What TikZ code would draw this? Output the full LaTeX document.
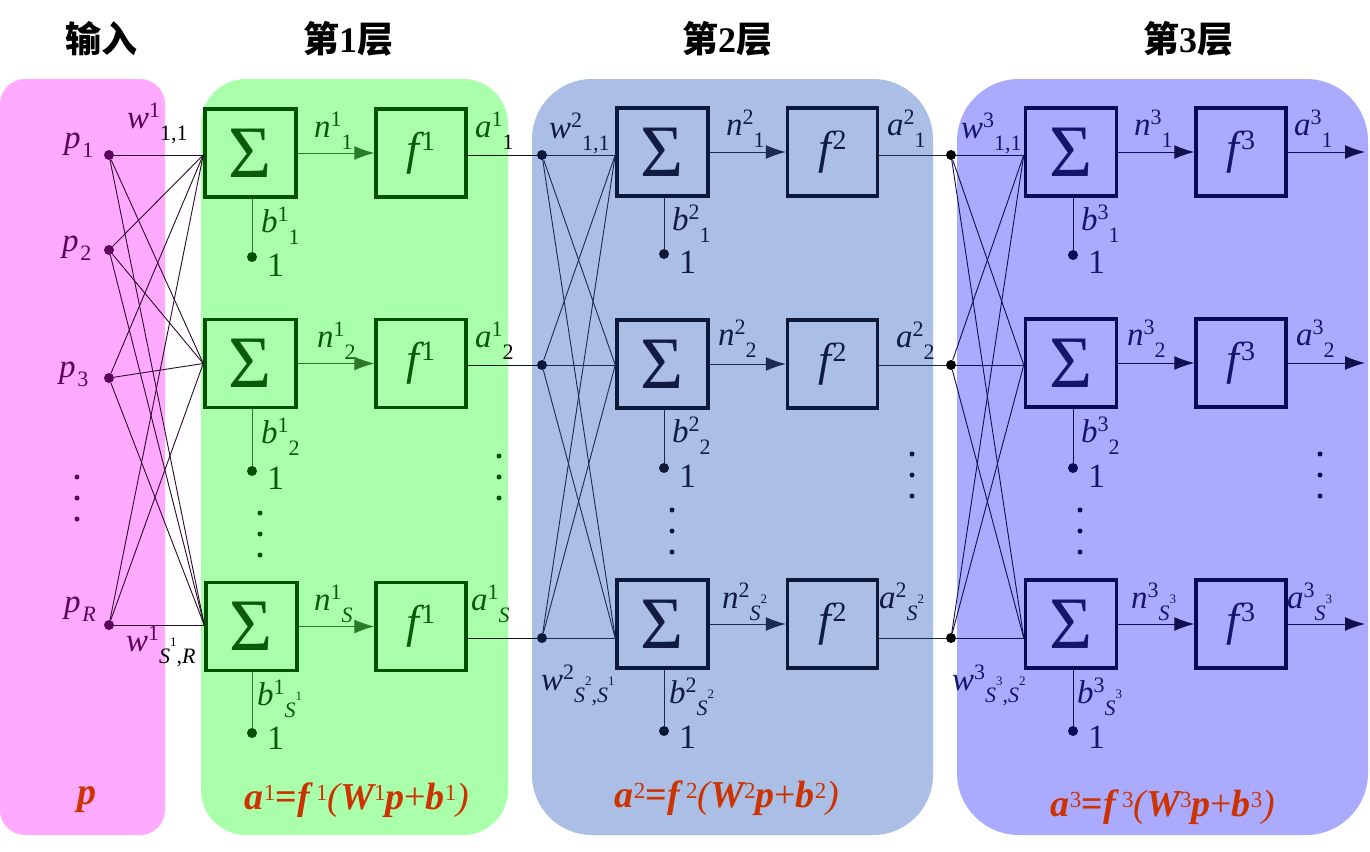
\documentclass[tikz,border=0pt]{standalone}
\usepackage{fontspec}
\setmainfont{Liberation Serif}
\newfontfamily\cjk{Noto Sans CJK SC}
\usetikzlibrary{arrows.meta}
\definecolor{pinkbg}{HTML}{FFAAFF}
\definecolor{greenbg}{HTML}{AAFFAA}
\definecolor{bluebg}{HTML}{AABEE6}
\definecolor{violetbg}{HTML}{AAAAFF}
\definecolor{cin}{HTML}{5C005C}
\definecolor{cinline}{HTML}{2E0A2E}
\definecolor{cone}{HTML}{0A5A0A}
\definecolor{coneb}{HTML}{005000}
\definecolor{conel}{HTML}{2A7A2A}
\definecolor{ctwo}{HTML}{111C40}
\definecolor{ctwob}{HTML}{0B1838}
\definecolor{ctwol}{HTML}{1B2A4E}
\definecolor{cthree}{HTML}{15156A}
\definecolor{cthreeb}{HTML}{0A0A55}
\definecolor{cthreel}{HTML}{10104E}
\definecolor{formula}{HTML}{CC3300}
\newcommand{\fsz}[1]{\fontsize{#1}{#1}\selectfont}
\newcommand{\tlab}[3]{{\fsz{33}\itshape #1}\raisebox{11pt}{\fsz{22}#2}\raisebox{-12pt}{\fsz{22}#3}}
\newcommand{\plab}[1]{{\fsz{33}\itshape p}\,\raisebox{-9pt}{\fsz{22}#1}}
\newcommand{\Sx}[1]{{\itshape S}\raisebox{17pt}{\fsz{13}#1}}
\newcommand{\fl}[1]{{\fsz{46}\itshape f}\,\raisebox{14pt}{\fsz{28}#1}}
\newcommand{\fsup}[1]{\raisebox{9pt}{\fsz{23}\mdseries\upshape #1}}
\newcommand{\frm}[1]{{\fsz{38}\bfseries\itshape a\fsup{#1}{\upshape =}f\,\fsup{#1}{\mdseries(}W\fsup{#1}p{\mdseries\upshape +}b\fsup{#1}{\mdseries)}}}
\newcommand{\ttl}[1]{{\cjk\bfseries\fsz{36}#1}}
\begin{document}
\begin{tikzpicture}[x=1pt,y=-1pt,
  lab/.style={inner sep=0pt, anchor=base west},
  sig/.style={draw, line width=3.5pt, minimum width=91pt, minimum height=88pt, inner sep=0pt, font=\fsz{74}},
  fbx/.style={draw, line width=3.5pt, minimum width=90pt, minimum height=88pt, inner sep=0pt},
  dotn/.style={circle, fill, inner sep=0pt, minimum size=10pt},
  sdot/.style={circle, fill, inner sep=0pt, minimum size=5pt},
  conn/.style={line width=0.9pt},
  arr/.style={line width=1pt, -{Latex[length=20pt,width=14pt]}},
  title/.style={inner sep=0pt},
  frmn/.style={inner sep=0pt, text=formula},
]
\useasboundingbox (0,0) rectangle (1370,851);
\fill[white] (0,0) rectangle (1370,851);
% panels
\fill[pinkbg, rounded corners=25pt] (0,79) rectangle (165,835);
\fill[greenbg, rounded corners=45pt] (201,79) rectangle (508,835);
\fill[bluebg, rounded corners=60pt] (532,79) rectangle (933,835);
\fill[violetbg, rounded corners=62pt] (957,79) rectangle (1368,835);
% titles
\node[title] (t0) at (101,39) {\ttl{输入}};
\node[title] (t1) at (348,39) {\ttl{第{\rmfamily 1}层}};
\node[title] (t2) at (727,39) {\ttl{第{\rmfamily 2}层}};
\node[title] (t3) at (1188,39) {\ttl{第{\rmfamily 3}层}};
% ---------------- layer 1 boxes
\node[sig, draw=coneb, text=cone, fill=greenbg] (s11) at (250.5,153) {Σ};
\node[sig, draw=coneb, text=cone, fill=greenbg] (s12) at (250.5,363.5) {Σ};
\node[sig, draw=coneb, text=cone, fill=greenbg] (s13) at (251.5,626.5) {Σ};
\node[fbx, draw=coneb, text=cone, fill=greenbg] (f11) at (421,153) {\fl{1}};
\node[fbx, draw=coneb, text=cone, fill=greenbg] (f12) at (421,363.5) {\fl{1}};
\node[fbx, draw=coneb, text=cone, fill=greenbg] (f13) at (421,626.5) {\fl{1}};
% ---------------- layer 2 boxes
\node[sig, draw=ctwob, text=ctwo, fill=bluebg] (s21) at (662.5,152) {Σ};
\node[sig, draw=ctwob, text=ctwo, fill=bluebg] (s22) at (662.5,364) {Σ};
\node[sig, draw=ctwob, text=ctwo, fill=bluebg] (s23) at (662.5,624) {Σ};
\node[fbx, draw=ctwob, text=ctwo, fill=bluebg] (f21) at (832.5,152) {\fl{2}};
\node[fbx, draw=ctwob, text=ctwo, fill=bluebg] (f22) at (832.5,364) {\fl{2}};
\node[fbx, draw=ctwob, text=ctwo, fill=bluebg] (f23) at (832.5,624) {\fl{2}};
% ---------------- layer 3 boxes
\node[sig, draw=cthreeb, text=cthree, fill=violetbg] (s31) at (1071,152) {Σ};
\node[sig, draw=cthreeb, text=cthree, fill=violetbg] (s32) at (1071,363) {Σ};
\node[sig, draw=cthreeb, text=cthree, fill=violetbg] (s33) at (1071,624) {Σ};
\node[fbx, draw=cthreeb, text=cthree, fill=violetbg] (f31) at (1241,152) {\fl{3}};
\node[fbx, draw=cthreeb, text=cthree, fill=violetbg] (f32) at (1241,363) {\fl{3}};
\node[fbx, draw=cthreeb, text=cthree, fill=violetbg] (f33) at (1241,624) {\fl{3}};
% ---------------- dots
\node[dotn, cin] (p1) at (109,155) {};
\node[dotn, cin] (p2) at (109,250) {};
\node[dotn, cin] (p3) at (109,378) {};
\node[dotn, cin] (pR) at (109,625) {};
\node[dotn, ctwob] (d21) at (542,155) {};
\node[dotn, ctwob] (d22) at (542,365) {};
\node[dotn, ctwob] (d23) at (542,638) {};
\node[dotn, black] (d31) at (951,155) {};
\node[dotn, black] (d32) at (951,365) {};
\node[dotn, black] (d33) at (951,638) {};
% bias dots
\node[dotn, coneb] (b11) at (252,257) {};
\node[dotn, coneb] (b12) at (252,471) {};
\node[dotn, coneb] (b13) at (252,733) {};
\node[dotn, ctwob] (b21) at (664,254) {};
\node[dotn, ctwob] (b22) at (664,468) {};
\node[dotn, ctwob] (b23) at (664,731) {};
\node[dotn, cthreeb] (b31) at (1073,255) {};
\node[dotn, cthreeb] (b32) at (1073,468) {};
\node[dotn, cthreeb] (b33) at (1073,731) {};
% output coordinates
\coordinate (o31) at (1365,152);
\coordinate (o32) at (1365,363);
\coordinate (o33) at (1365,624);
% ---------------- connections layer 1
\foreach \p in {p1,p2,p3,pR}{
  \draw[conn, cinline] (\p) -- (s11.west |- p1);
  \draw[conn, cinline] (\p) -- (s12.west);
  \draw[conn, cinline] (\p) -- (s13.west |- pR);
}
\foreach \r in {1,2,3}{
  \draw[arr, conel] (s1\r.east) -- (f1\r.west);
  \draw[conn, conel] (s1\r.south -| b1\r) -- (b1\r);
  \draw[conn, black!80!conel] (f1\r.east |- d2\r) -- (d2\r);
}
% ---------------- connections layer 2
\foreach \d in {d21,d22,d23}{
  \draw[conn, ctwol] (\d) -- (s21.west |- d21);
  \draw[conn, ctwol] (\d) -- (s22.west |- d22);
  \draw[conn, ctwol] (\d) -- (s23.west |- d23);
}
\foreach \r in {1,2,3}{
  \draw[arr, ctwol] (s2\r.east) -- (f2\r.west);
  \draw[conn, ctwol] (s2\r.south -| b2\r) -- (b2\r);
  \draw[conn, ctwol] (f2\r.east |- d3\r) -- (d3\r);
}
% ---------------- connections layer 3
\foreach \d in {d31,d32,d33}{
  \draw[conn, cthreel] (\d) -- (s31.west |- d31);
  \draw[conn, cthreel] (\d) -- (s32.west |- d32);
  \draw[conn, cthreel] (\d) -- (s33.west |- d33);
}
\foreach \r in {1,2,3}{
  \draw[arr, cthreel] (s3\r.east) -- (f3\r.west);
  \draw[conn, cthreel] (s3\r.south -| b3\r) -- (b3\r);
  \draw[arr, cthreel] (f3\r.east) -- (o3\r);
}
% ---------------- ellipsis dots
\foreach \y [count=\i] in {477,498,519}{
  \node[sdot, cin] (ein\i) at (77,\y) {};
  \node[sdot, coneb] (eas\i) at (260,\y+36) {};
  \node[sdot, coneb] (ear\i) at (499,\y-21) {};
  \node[sdot, ctwob] (ebs\i) at (672,\y+33) {};
  \node[sdot, ctwob] (ebr\i) at (912,\y-23) {};
  \node[sdot, cthreeb] (ecs\i) at (1080,\y+33) {};
  \node[sdot, cthreeb] (ecr\i) at (1320,\y-23) {};
}
% ---------------- input labels
\node[lab, cin] (lp1) at (64,148) {\plab{1}};
\node[lab, cin] (lp2) at (62,251) {\plab{2}};
\node[lab, cin] (lp3) at (59,377) {\plab{3}};
\node[lab, cin] (lpR) at (64,612) {\plab{\itshape R}};
\node[lab, cin] (lw11) at (127,128) {\tlab{w}{1}{\color{black}1,1}};
\node[lab, cin] (lwSR) at (126,651) {\tlab{w}{1}{\color{black}\Sx{1},\itshape R}};
% ---------------- layer 1 labels
\node[lab, cone] (ln11) at (314,137) {\tlab{n}{1}{1}};
\node[lab, cone] (la11) at (475,137) {\tlab{a}{1}{\color{black}1}};
\node[lab, cone] (lb11) at (261,232) {\tlab{b}{1}{1}};
\node[lab, cone, font=\fsz{34}] (l111) at (267,276) {1};
\node[lab, cone] (ln12) at (317,347) {\tlab{n}{1}{2}};
\node[lab, cone] (la12) at (475,347) {\tlab{a}{1}{\color{black}2}};
\node[lab, cone] (lb12) at (261,443) {\tlab{b}{1}{2}};
\node[lab, cone, font=\fsz{34}] (l112) at (267,489) {1};
\node[lab, cone] (ln13) at (314,610) {\tlab{n}{1}{\itshape S}};
\node[lab, cone] (la13) at (471,610) {\tlab{a}{1}{\itshape S}};
\node[lab, cone] (lb13) at (257,705) {\tlab{b}{1}{\Sx{1}}};
\node[lab, cone, font=\fsz{34}] (l113) at (267,749) {1};
% ---------------- layer 2 labels
\node[lab, ctwo] (lw21) at (549,138) {\tlab{w}{2}{1,1}};
\node[lab, ctwo] (lwSS2) at (541,690) {\tlab{w}{2}{\Sx{2},\Sx{1}}};
\node[lab, ctwo] (ln21) at (726,135) {\tlab{n}{2}{1}};
\node[lab, ctwo] (la21) at (887,135) {\tlab{a}{2}{1}};
\node[lab, ctwo] (lb21) at (672,230) {\tlab{b}{2}{1}};
\node[lab, ctwo, font=\fsz{34}] (l121) at (679,273) {1};
\node[lab, ctwo] (ln22) at (718,345) {\tlab{n}{2}{2}};
\node[lab, ctwo] (la22) at (896,347) {\tlab{a}{2}{2}};
\node[lab, ctwo] (lb22) at (672,442) {\tlab{b}{2}{2}};
\node[lab, ctwo, font=\fsz{34}] (l122) at (679,487) {1};
\node[lab, ctwo] (ln23) at (722,608) {\tlab{n}{2}{\Sx{2}}};
\node[lab, ctwo] (la23) at (879,608) {\tlab{a}{2}{\Sx{2}}};
\node[lab, ctwo] (lb23) at (669,703) {\tlab{b}{2}{\Sx{2}}};
\node[lab, ctwo, font=\fsz{34}] (l123) at (679,748) {1};
% ---------------- layer 3 labels
\node[lab, cthree] (lw31) at (961,138) {\tlab{w}{3}{1,1}};
\node[lab, cthree] (lwSS3) at (952,690) {\tlab{w}{3}{\Sx{3},\Sx{2}}};
\node[lab, cthree] (ln31) at (1134,135) {\tlab{n}{3}{1}};
\node[lab, cthree] (la31) at (1294,135) {\tlab{a}{3}{1}};
\node[lab, cthree] (lb31) at (1081,230) {\tlab{b}{3}{1}};
\node[lab, cthree, font=\fsz{34}] (l131) at (1088,273) {1};
\node[lab, cthree] (ln32) at (1127,345) {\tlab{n}{3}{2}};
\node[lab, cthree] (la32) at (1296,345) {\tlab{a}{3}{2}};
\node[lab, cthree] (lb32) at (1081,442) {\tlab{b}{3}{2}};
\node[lab, cthree, font=\fsz{34}] (l132) at (1088,487) {1};
\node[lab, cthree] (ln33) at (1131,608) {\tlab{n}{3}{\Sx{3}}};
\node[lab, cthree] (la33) at (1287,608) {\tlab{a}{3}{\Sx{3}}};
\node[lab, cthree] (lb33) at (1077,703) {\tlab{b}{3}{\Sx{3}}};
\node[lab, cthree, font=\fsz{34}] (l133) at (1088,748) {1};
% ---------------- formulas
\node[frmn] (fp) at (87,800) {{\fsz{38}\bfseries\itshape p}};
\node[frmn] (fm1) at (357,800) {\frm{1}};
\node[frmn] (fm2) at (727,798) {\frm{2}};
\node[frmn] (fm3) at (1163,807) {\frm{3}};
\end{tikzpicture}
\end{document}
